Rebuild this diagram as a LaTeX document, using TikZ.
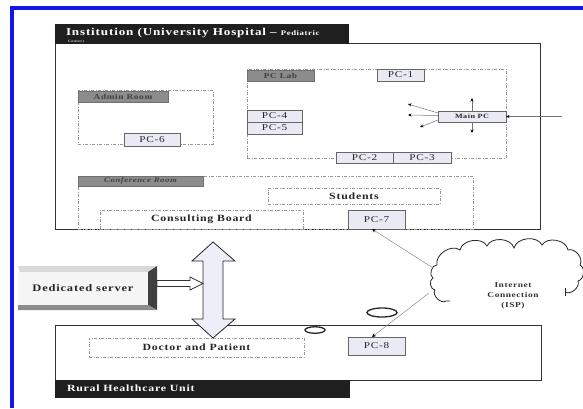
\documentclass[tikz,border=0pt]{standalone}
\usepackage{fontspec}
\setmainfont{Liberation Serif}[FakeStretch=1.25,LetterSpace=8]
\usetikzlibrary{arrows.meta,shapes.geometric}
\definecolor{frameblue}{RGB}{20,20,235}
\definecolor{pcfill}{RGB}{234,234,244}
\definecolor{lblgray}{RGB}{140,140,140}
\definecolor{dashgray}{RGB}{150,150,150}
\definecolor{arrowfill}{RGB}{238,238,248}
\begin{document}
\begin{tikzpicture}[x=1pt,y=-1pt,
  every node/.style={inner sep=0pt, outer sep=0pt},
  bigbox/.style={draw=black!80, line width=0.9pt},
  roombox/.style={draw=dashgray, line width=0.6pt, dash pattern=on 3pt off 1.5pt on 1pt off 1.5pt},
  roomlbl/.style={fill=lblgray, draw=lblgray!80!black, line width=0.3pt, text=black!75, font=\bfseries\fontsize{7.5}{8}\selectfont},
  pcbox/.style={fill=pcfill, draw=black!60, line width=0.6pt, text=black!85, font=\fontsize{9}{9}\selectfont},
  darkbar/.style={fill=black!88, draw=black!88, text=white},
  txt/.style={font=\bfseries\fontsize{9.5}{10}\selectfont, text=black!85},
  mlink/.style={draw=black!55, line width=0.5pt, -{Stealth[black,length=3.5pt,width=3pt]}},
  clink/.style={draw=black!45, line width=0.5pt, -{Stealth[black,length=4pt,width=3.5pt]}},
  ring/.style={draw=black!85, line width=1.3pt, ellipse}
]
\useasboundingbox (0,0) rectangle (583,408);
\fill[white] (0,0) rectangle (583,408);
% blue frame
\draw[frameblue, line width=4pt] (10,8) -- (583,8);
\draw[frameblue, line width=4pt] (12,8) -- (12,408);

% Institution
\node[bigbox, minimum width=485pt, minimum height=186pt] (inst) at (297.5,136) {};
\node[darkbar, minimum width=293pt, minimum height=19pt] (hdr) at (201.5,33.5) {};
\node[anchor=west, text=white, font=\bfseries\fontsize{10.5}{11}\selectfont] (hdrtxt) at (66,32.5)
  {Institution (University Hospital \textendash{} {\fontsize{7}{7}\selectfont Pediatric}};
\node[anchor=west, text=white!80!black, font=\bfseries\fontsize{3.5}{4}\selectfont] (hdrtxt2) at (68,41.3) {Center)};

% rooms
\node[roombox, minimum width=259pt, minimum height=89pt] (lab) at (376.5,113.5) {};
\node[roomlbl, minimum width=67pt, minimum height=11pt] (lablbl) at (280.5,75.5) {PC Lab};
\node[roombox, minimum width=135pt, minimum height=54pt] (admin) at (145.5,117) {};
\node[roomlbl, minimum width=90pt, minimum height=11pt] (adminlbl) at (123,96.5) {Admin Room};
\node[roombox, minimum width=395pt, minimum height=53pt] (conf) at (275.5,202.5) {};
\node[roomlbl, minimum width=125pt, minimum height=10pt, font=\bfseries\itshape\fontsize{7}{8}\selectfont] (conflbl) at (140.5,181) {Conference Room};
\node[roombox, minimum width=172pt, minimum height=16pt, txt] (students) at (354,196) {Students};
\node[roombox, minimum width=203pt, minimum height=19pt, txt] (consult) at (201.5,219.5) {Consulting Board};

% PCs
\node[pcbox, minimum width=47pt, minimum height=12pt] (pc1) at (400.5,75) {PC-1};
\node[pcbox, minimum width=55pt, minimum height=12pt] (pc4) at (274.5,116) {PC-4};
\node[pcbox, minimum width=55pt, minimum height=12pt] (pc5) at (274.5,128) {PC-5};
\node[pcbox, minimum width=56pt, minimum height=13pt] (pc6) at (152,139.5) {PC-6};
\node[pcbox, minimum width=57pt, minimum height=11pt] (pc2) at (364.5,157.5) {PC-2};
\node[pcbox, minimum width=58pt, minimum height=11pt] (pc3) at (422,157.5) {PC-3};
\node[pcbox, minimum width=68pt, minimum height=11pt, font=\bfseries\fontsize{6.5}{7}\selectfont] (main) at (472,116.5) {Main PC};
\node[pcbox, minimum width=57pt, minimum height=19pt] (pc7) at (376.5,219.5) {PC-7};

% Main PC arrows
\coordinate (m1) at (408,104);
\coordinate (m2) at (408,115);
\coordinate (m3) at (420,127);
\coordinate (mu) at (472,98);
\coordinate (md) at (472,133);
\coordinate (mr) at (562,116.5);
\draw[mlink] ([yshift=3.5pt]main.west) -- (m1);
\draw[mlink] ([yshift=1pt]main.west) -- (m2);
\draw[mlink] ([yshift=-3.5pt]main.west) -- (m3);
\draw[mlink] (main.north) -- (mu);
\draw[mlink] (main.south) -- (md);
\draw[mlink] (mr) -- (main.east);

% Rural healthcare unit
\node[bigbox, minimum width=486pt, minimum height=55pt] (rural) at (298,352.5) {};
\node[darkbar, minimum width=294pt, minimum height=17pt] (ruralbar) at (202,388.5) {};
\node[anchor=west, text=white, font=\bfseries\fontsize{9.5}{10}\selectfont] (ruraltxt) at (67,388.5) {Rural Healthcare Unit};
\node[roombox, minimum width=215pt, minimum height=19pt, txt] (doctor) at (196.5,347.5) {Doctor and Patient};
\node[pcbox, minimum width=57pt, minimum height=18pt] (pc8) at (376.5,346) {PC-8};

% big double arrow
\draw[fill=arrowfill, draw=black!85, line width=0.8pt]
  (213,242) -- (235,261) -- (223,261) -- (223,319) -- (235,319) -- (213,338)
  -- (192,319) -- (203,319) -- (203,261) -- (192,261) -- cycle;

% dedicated server (bevel)
\fill[black!15] (18,266) -- (157,266) -- (148,272) -- (20,272) -- cycle;
\fill[black!75] (148,272) -- (157,266) -- (157,310) -- (148,305) -- cycle;
\fill[black!45] (18,305) -- (148,305) -- (157,310) -- (18,310) -- cycle;
\node[fill=black!4, minimum width=130pt, minimum height=33pt, txt, font=\bfseries\fontsize{10}{10}\selectfont] (server) at (83,288.5) {Dedicated server};
\draw[fill=white, draw=black!80, line width=0.7pt]
  (157,280.5) -- (190,280.5) -- (190,277) -- (203,283.5) -- (190,290) -- (190,286.5) -- (157,286.5) -- cycle;

% rings
\node[ring, minimum width=30pt, minimum height=9pt] (ring1) at (382,312.5) {};
\node[ring, minimum width=20pt, minimum height=6.5pt] (ring2) at (315,330) {};

% cloud
\draw[black!85, line width=0.8pt]
  (450,301) -- (446,301)
  to[bend left=80] (435,290)
  to[bend left=80] (433,278)
  to[bend left=80] (437,265)
  to[bend left=70] (460,250)
  to[bend left=70] (487,246)
  to[bend left=70] (514,248)
  to[bend left=70] (542,245)
  to[bend left=70] (568,250)
  to[bend left=70] (580,265)
  to[bend left=70] (578,281)
  to[bend left=70] (565,292);
\draw[black!85, line width=0.8pt] (565,288) -- (565,296);
\node[align=center, font=\bfseries\fontsize{7.5}{10}\selectfont, text=black!80] (cloudtxt) at (513,296) {Internet\\Connection\\(ISP)};
\coordinate (c1) at (433,268);
\coordinate (c2) at (429,293);
\draw[clink] (c1) -- ([xshift=-4.5pt]pc7.south);
\draw[clink] (c2) -- ([xshift=-4.5pt]pc8.north);
\end{tikzpicture}
\end{document}
